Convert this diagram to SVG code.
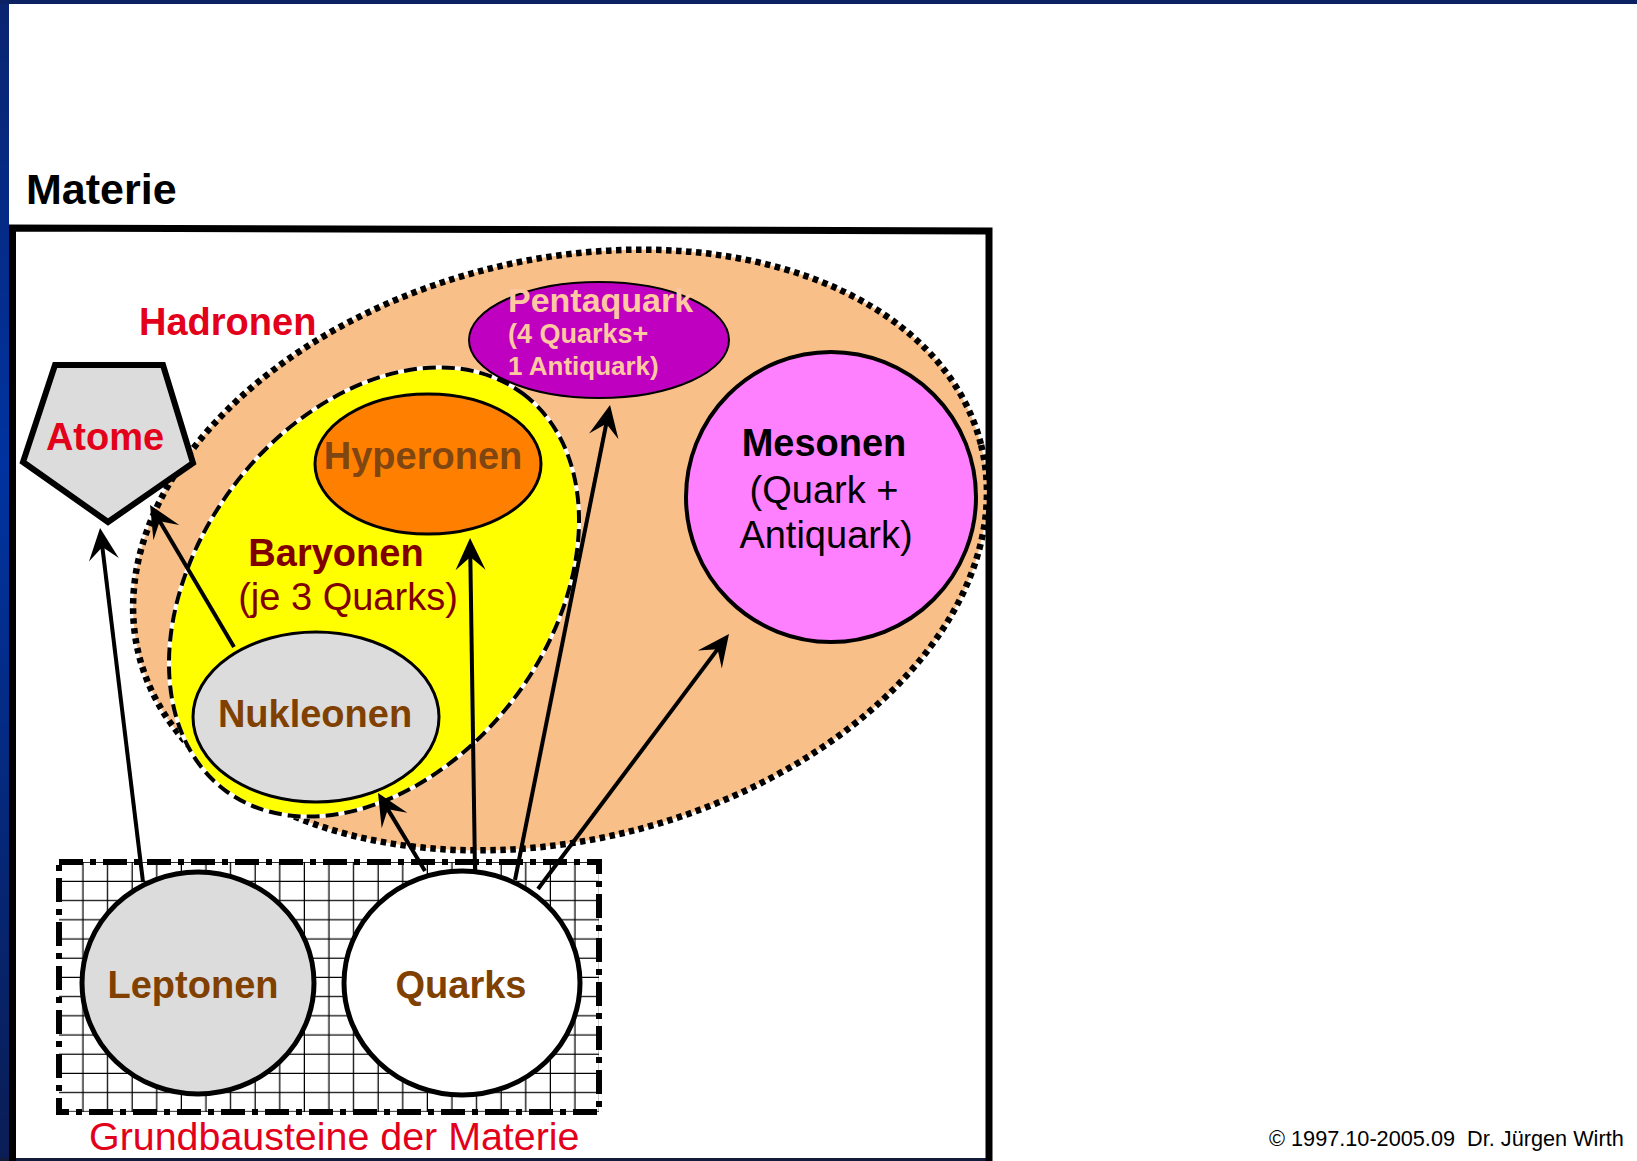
<svg xmlns="http://www.w3.org/2000/svg" width="1637" height="1161" viewBox="0 0 1637 1161" font-family="'Liberation Sans', Arial, sans-serif">
<defs>
<linearGradient id="band" x1="0" y1="0" x2="0" y2="1">
<stop offset="0" stop-color="#0a2470"/>
<stop offset="0.4" stop-color="#0033a0"/>
<stop offset="1" stop-color="#0a1d55"/>
</linearGradient>
<pattern id="grid" x="59" y="862.8" width="24.6" height="19.2" patternUnits="userSpaceOnUse">
<path d="M24 0V19.2M0 18.6H24.6" stroke="#000" stroke-width="1.3" fill="none"/>
</pattern>
<marker id="ah" viewBox="-33 -16 34 32" markerWidth="34" markerHeight="32" refX="-17" refY="0" markerUnits="userSpaceOnUse" orient="auto">
<path d="M0,0 L-32,-15 L-19,0 L-32,15 Z" fill="#000"/>
</marker>
<style>
text{font-family:"Liberation Sans",Arial,sans-serif}
.b{font-weight:bold}
.lbl{font-size:38px}
.brown{fill:#804000}
.red{fill:#e3001b}
.arrow{stroke:#000;stroke-width:4;fill:none;marker-end:url(#ah)}
</style>
</defs>
<rect width="1637" height="1161" fill="#fff"/>
<rect x="0" y="0" width="9" height="1161" fill="url(#band)"/>
<rect x="0" y="0" width="1637" height="4" fill="#0b2161"/>
<rect x="0" y="1158" width="992" height="3" fill="#141c3c"/>
<path d="M12.5,1161 V228 L989,231 V1161" fill="none" stroke="#000" stroke-width="7"/>
<text x="26" y="204" class="b" font-size="43" fill="#000">Materie</text>

<g id="hadronen">
<ellipse cx="560" cy="550" rx="434" ry="290" transform="rotate(-14 560 550)" fill="#f9bf88" stroke="#000" stroke-width="6.5" stroke-dasharray="5.5 4.5"/>
<text x="139" y="335" class="b lbl red">Hadronen</text>
</g>

<g id="baryonen">
<ellipse cx="374" cy="592" rx="248" ry="176" transform="rotate(-53 374 592)" fill="#ffff00" stroke="#fff" stroke-width="4"/>
<ellipse cx="374" cy="592" rx="248" ry="176" transform="rotate(-53 374 592)" fill="none" stroke="#000" stroke-width="4" stroke-dasharray="13 6"/>
<text x="336" y="566" text-anchor="middle" class="b lbl" fill="#800000">Baryonen</text>
<text x="348" y="610" text-anchor="middle" class="lbl" fill="#800000">(je 3 Quarks)</text>
</g>

<g id="hyperonen">
<ellipse cx="428" cy="464" rx="113" ry="70" fill="#ff8000" stroke="#000" stroke-width="3"/>
<text x="423" y="469" text-anchor="middle" class="b lbl" fill="#7f4612">Hyperonen</text>
</g>

<g id="nukleonen">
<ellipse cx="316" cy="717" rx="123" ry="85" fill="#dcdcdc" stroke="#000" stroke-width="3"/>
<text x="315" y="727" text-anchor="middle" class="b lbl brown">Nukleonen</text>
</g>

<g id="pentaquark">
<ellipse cx="599" cy="340" rx="130" ry="58" fill="#c000c0" stroke="#000" stroke-width="2"/>
<text x="508" y="312" class="b" font-size="34" fill="#ffc8a0">Pentaquark</text>
<text x="508" y="343" class="b" font-size="27" fill="#ffc8a0">(4 Quarks+</text>
<text x="508" y="375" class="b" font-size="26" fill="#ffc8a0">1 Antiquark)</text>
</g>

<g id="mesonen">
<circle cx="831" cy="497" r="145" fill="#ff80ff" stroke="#000" stroke-width="4"/>
<text x="824" y="456" text-anchor="middle" class="b lbl" fill="#000">Mesonen</text>
<text x="824" y="503" text-anchor="middle" class="lbl" fill="#000">(Quark +</text>
<text x="826" y="548" text-anchor="middle" class="lbl" fill="#000">Antiquark)</text>
</g>

<g id="atome">
<polygon points="55,365 163,365 193,463 108,522 23,462" fill="#dcdcdc" stroke="#000" stroke-width="6" stroke-linejoin="miter"/>
<text x="105" y="450" text-anchor="middle" class="b lbl red">Atome</text>
</g>

<g id="grundbausteine">
<rect x="59" y="862" width="540" height="250" fill="url(#grid)"/>
<rect x="59" y="862" width="540" height="250" fill="none" stroke="#000" stroke-width="6" stroke-dasharray="24 7 6 7"/>
<text x="89" y="1150" class="red" font-size="39.4">Grundbausteine der Materie</text>
</g>

<g id="leptonen">
<ellipse cx="198" cy="983" rx="116" ry="111" fill="#dcdcdc" stroke="#000" stroke-width="5"/>
<text x="193" y="998" text-anchor="middle" class="b lbl brown">Leptonen</text>
</g>

<g id="quarks">
<ellipse cx="462" cy="983" rx="118" ry="112" fill="#fff" stroke="#000" stroke-width="5"/>
<text x="461" y="998" text-anchor="middle" class="b lbl brown">Quarks</text>
</g>

<g id="connectors">
<line class="arrow" x1="143" y1="882" x2="102.1" y2="544.9"/>
<line class="arrow" x1="234" y1="647" x2="158.7" y2="519.6"/>
<line class="arrow" x1="425" y1="871" x2="386.8" y2="807.6"/>
<line class="arrow" x1="475" y1="871" x2="470.3" y2="555"/>
<line class="arrow" x1="515" y1="880" x2="606.7" y2="421.7"/>
<line class="arrow" x1="538" y1="889" x2="718.8" y2="647.6"/>
</g>

<text x="1269" y="1146" font-size="21.7" fill="#000" xml:space="preserve">© 1997.10-2005.09  Dr. Jürgen Wirth</text>
</svg>
